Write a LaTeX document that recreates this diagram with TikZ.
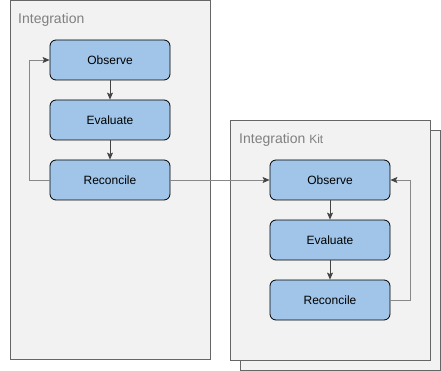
\documentclass[tikz,border=0pt]{standalone}
\usepackage{fontspec}
\setmainfont{Liberation Sans}
\usetikzlibrary{arrows.meta,positioning}
\definecolor{Frame}{HTML}{666666}
\definecolor{FrameFill}{HTML}{F2F2F2}
\definecolor{Label}{HTML}{808080}
\definecolor{Step}{HTML}{A0C5E8}
\definecolor{Link}{HTML}{444444}
\definecolor{LinkLight}{HTML}{888888}
\tikzset{group/.style={draw=Frame,fill=FrameFill,line width=.8pt},stepbox/.style={rounded corners=6pt,draw=black,fill=Step,line width=.8pt,minimum width=120pt,minimum height=40pt,inner sep=0pt,font=\fontsize{12}{14}\selectfont},title/.style={Label,font=\fontsize{14}{16}\selectfont,anchor=base west,inner sep=0pt},next/.style={-{Stealth[length=7pt,width=6pt,inset=1.5pt,color=Link]},draw=Link,line width=.7pt},back/.style={-{Stealth[length=7pt,width=6pt,inset=1.5pt,color=Link]},draw=LinkLight,line width=.7pt}}

\begin{document}
\begin{tikzpicture}[x=1pt,y=-1pt]
        \useasboundingbox (0,0) rectangle (441,371);
        % left group
        \draw[group](10.5,.5)rectangle(210.5,359.5);
        \node[title](lefttitle)at(18,24){Integration};
        \node[stepbox](obsA)at(110,60){Observe};
        \node[stepbox](evalA)at(110,120){Evaluate};
        \node[stepbox](recA)at(110,180){Reconcile};
        % right group, stacked
        \draw[group](240.5,130.5)rectangle(440.5,370.5);
        \draw[group](230.5,120.5)rectangle(430.5,360.5);
        \node[title](righttitle)at(239,144){Integration {\fontsize{12}{14}\selectfont Kit}};
        \node[stepbox](obsB)at(330,180){Observe};
        \node[stepbox](evalB)at(330,240){Evaluate};
        \node[stepbox](recB)at(330,300){Reconcile};
        \draw[next](obsA)--(evalA);
        \draw[next](evalA)--(recA);
        \draw[next](obsB)--(evalB);
        \draw[next](evalB)--(recB);
        \draw[back](recA.west)--++(-20,0)|-(obsA.west);
        \draw[back](recB.east)--++(20,0)|-(obsB.east);
        \draw[back](recA.east)--(obsB.west);
      \end{tikzpicture}
\end{document}
